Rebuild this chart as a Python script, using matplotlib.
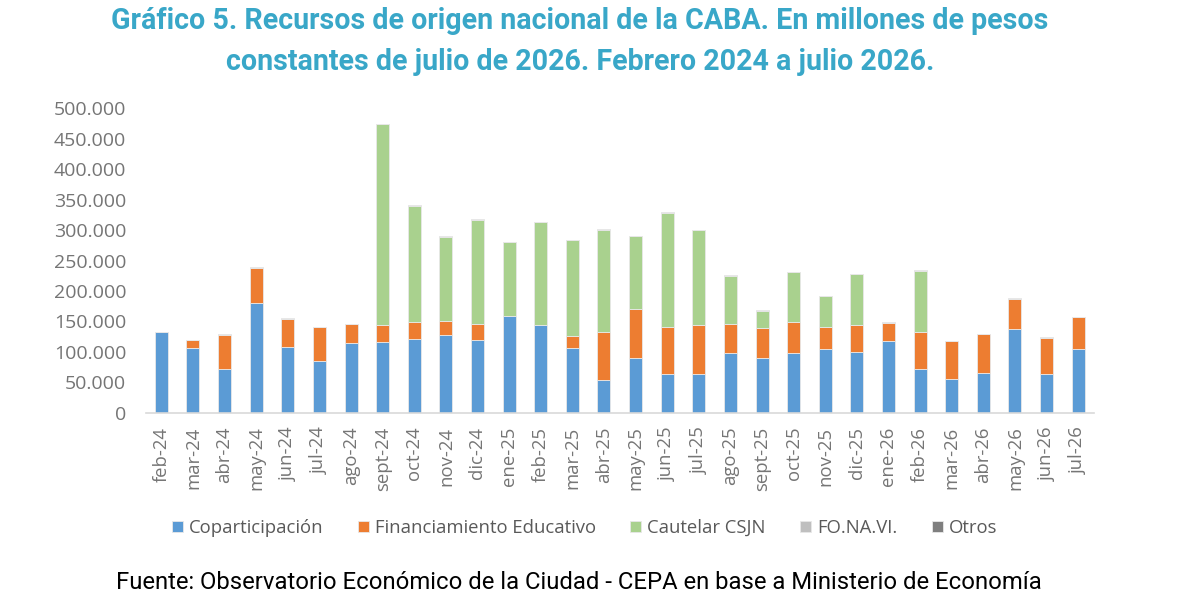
import numpy as np
import matplotlib.pyplot as plt

plt.rcParams['font.family'] = ['Roboto', 'DejaVu Sans']

meses = ['feb-24', 'mar-24', 'abr-24', 'may-24', 'jun-24', 'jul-24', 'ago-24',
         'sept-24', 'oct-24', 'nov-24', 'dic-24', 'ene-25', 'feb-25', 'mar-25',
         'abr-25', 'may-25', 'jun-25', 'jul-25', 'ago-25', 'sept-25', 'oct-25',
         'nov-25', 'dic-25', 'ene-26', 'feb-26', 'mar-26', 'abr-26', 'may-26',
         'jun-26', 'jul-26']

# millones de pesos constantes
coparticipacion = [132000, 106800, 71300, 180200, 107400, 84900, 114000,
                   116100, 120500, 127100, 118900, 159300, 144600, 106800,
                   53200, 89800, 64100, 63100, 98600, 90300, 97600,
                   104100, 100200, 117800, 72300, 55800, 65700, 137000,
                   63100, 104600]
financiamiento_educativo = [0, 12200, 56800, 58000, 47000, 55400, 31200,
                            28500, 29000, 24000, 26300, 0, 0, 19200,
                            79900, 81000, 77200, 81500, 46600, 49300, 50900,
                            37200, 44400, 30000, 59800, 61500, 63100, 49800,
                            60100, 52100]
cautelar_csjn = [0, 0, 0, 0, 0, 0, 0,
                 329100, 190000, 137500, 171800, 120600, 168100, 157200,
                 167500, 119000, 187200, 155000, 79800, 27400, 82100,
                 49900, 82700, 0, 100700, 0, 0, 0,
                 0, 0]
fonavi = [1200] * 30
otros = [0] * 30

series = [
    ('Coparticipación', coparticipacion, '#5B9BD5'),
    ('Financiamiento Educativo', financiamiento_educativo, '#ED7D31'),
    ('Cautelar CSJN', cautelar_csjn, '#A9D18E'),
    ('FO.NA.VI.', fonavi, '#BFBFBF'),
    ('Otros', otros, '#7F7F7F'),
]

fig = plt.figure(figsize=(11.93, 6.09), dpi=100)
ax = fig.add_axes([0.122, 0.3223, 0.795, 0.4997])

x = np.arange(len(meses))
base = np.zeros(len(meses))
for nombre, vals, color in series:
    vals = np.array(vals, dtype=float)
    ax.bar(x, vals, 0.41, bottom=base, color=color, label=nombre,
           edgecolor='#E8E8E8', linewidth=0.6)
    base += vals

ax.set_xlim(-0.5, len(meses) - 0.5)
ax.set_ylim(0, 500000)
yt = np.arange(0, 500001, 50000)
ax.set_yticks(yt)
ax.set_yticklabels([f'{int(v):,}'.replace(',', '.') for v in yt],
                   family=['Open Sans', 'DejaVu Sans'], fontsize=14)
ax.set_xticks(x)
ax.set_xticklabels(meses, rotation=90, family=['Open Sans', 'DejaVu Sans'],
                   fontsize=13.3)
ax.tick_params(axis='both', length=0, colors='#757575')
ax.tick_params(axis='y', pad=14)
ax.tick_params(axis='x', pad=10)
for s in ['top', 'right', 'left']:
    ax.spines[s].set_visible(False)
ax.spines['bottom'].set_color('#D9D9D9')
ax.spines['bottom'].set_linewidth(1.2)

fig.legend(loc='center', bbox_to_anchor=(0.49, 0.133), ncol=5, frameon=False,
           prop={'family': ['Open Sans', 'DejaVu Sans'], 'size': 13.3},
           handlelength=0.6, handleheight=0.6, columnspacing=1.85,
           handletextpad=0.33, labelcolor='#595959')

fig.text(0.486, 0.965, 'Gráfico 5. Recursos de origen nacional de la CABA. En millones de pesos',
         ha='center', va='center', fontsize=20.6, fontweight='bold', color='#39A7C8')
fig.text(0.486, 0.899, 'constantes de julio de 2026. Febrero 2024 a julio 2026.',
         ha='center', va='center', fontsize=20.6, fontweight='bold', color='#39A7C8')
fig.text(0.485, 0.044, 'Fuente: Observatorio Económico de la Ciudad - CEPA en base a Ministerio de Economía',
         ha='center', va='center', fontsize=17.2, color='black')

fig.savefig('out.png', dpi=100)
